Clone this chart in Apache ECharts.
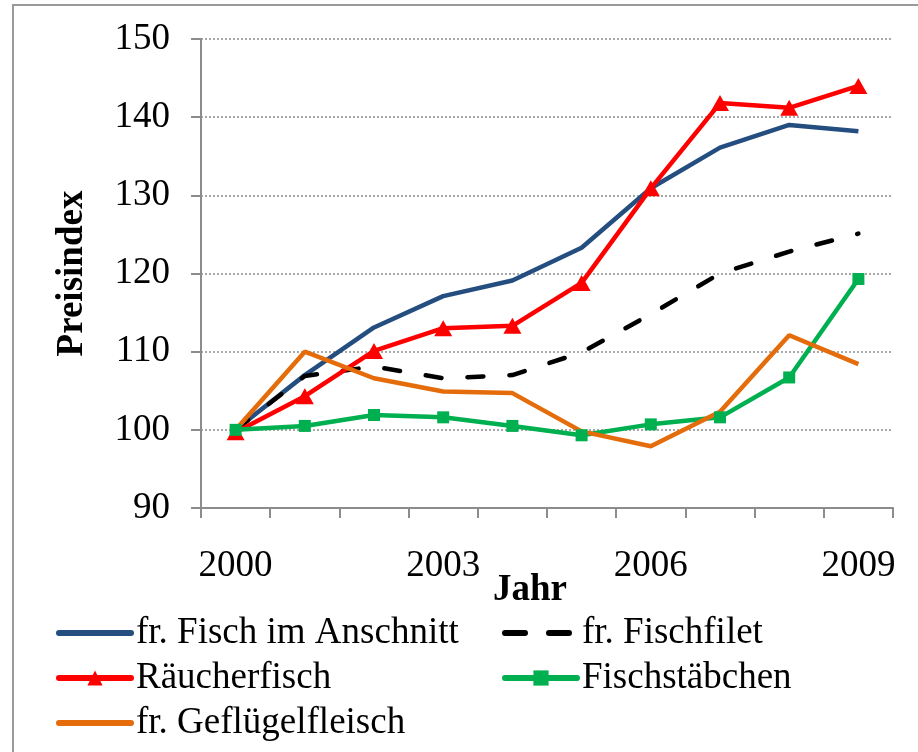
<!DOCTYPE html>
<html>
<head>
<meta charset="utf-8">
<script src="https://cdn.jsdelivr.net/npm/echarts@6/dist/echarts.min.js"></script>
<style>
  html, body { margin: 0; padding: 0; background: #fff; }
  #chart { width: 918px; height: 752px; }
</style>
</head>
<body>
<div id="chart"></div>
<script>
// Jahre und Preisindex (2000 = 100)
const years = ['2000', '2001', '2002', '2003', '2004', '2005', '2006', '2007', '2008', '2009'];
const fischAnschnitt = [100, 107.0, 113.1, 117.1, 119.1, 123.3, 130.9, 136.1, 139.0, 138.2];
const fischfilet = [100, 106.9, 108.1, 106.6, 107.0, 109.9, 114.8, 120.0, 122.8, 125.1];
const raeucherfisch = [99.7, 104.3, 110.1, 113.0, 113.3, 118.8, 130.9, 141.8, 141.2, 144.0];
const fischstaebchen = [100, 100.5, 101.9, 101.6, 100.5, 99.3, 100.7, 101.6, 106.7, 119.3];
const gefluegel = [100, 110.0, 106.6, 104.9, 104.7, 99.8, 97.9, 102.3, 112.1, 108.4];

const FONT = '"Liberation Serif", "Times New Roman", serif';

const chart = echarts.init(document.getElementById('chart'));

const legendCommon = {
  orient: 'vertical',
  top: 613,
  padding: 0,
  itemWidth: 72,
  itemHeight: 19,
  itemGap: 5,
  lineStyle: {width: 6, cap: 'round'},
  textStyle: {fontFamily: FONT, fontSize: 37, color: '#000', lineHeight: 40}
};

// Serien ohne Marker: im Legendensymbol nur die Linie zeigen
const noMarker = {opacity: 0};

const option = {
  backgroundColor: '#fff',
  animation: false,
  graphic: [{
    type: 'rect',
    shape: {x: 13, y: 5, width: 1000, height: 1000},
    style: {fill: 'none', stroke: '#9a9a9a', lineWidth: 2},
    silent: true
  }],
  // Achsentitel "Jahr" sitzt im Original dicht unter den Jahreszahlen
  title: {
    text: 'Jahr',
    left: 493,
    top: 572,
    padding: 0,
    textStyle: {fontFamily: FONT, fontSize: 37, fontWeight: 'bold', color: '#000'}
  },
  grid: {left: 201, right: 25, top: 39, bottom: 244},
  legend: [
    Object.assign({
      left: 56,
      data: [
        {name: 'fr. Fisch im Anschnitt', itemStyle: noMarker},
        {name: 'Räucherfisch'},
        {name: 'fr. Geflügelfleisch', itemStyle: noMarker}
      ]
    }, legendCommon),
    Object.assign({
      left: 502,
      data: [
        {name: 'fr. Fischfilet', itemStyle: noMarker, lineStyle: {type: [20, 24], width: 6, cap: 'round'}},
        {name: 'Fischstäbchen'}
      ]
    }, legendCommon)
  ],
  xAxis: {
    type: 'category',
    data: years,
    boundaryGap: true,
    axisLine: {lineStyle: {color: '#8c8c8c', width: 2}},
    axisTick: {show: true, interval: 0, length: 10, lineStyle: {color: '#8c8c8c', width: 2}},
    axisLabel: {interval: 2, margin: 40, fontFamily: FONT, fontSize: 37, color: '#000'},
    splitLine: {show: false}
  },
  yAxis: {
    type: 'value',
    min: 90,
    max: 150,
    interval: 10,
    name: 'Preisindex',
    nameLocation: 'middle',
    nameGap: 110,
    nameRotate: 90,
    nameTextStyle: {fontFamily: FONT, fontSize: 37, fontWeight: 'bold', color: '#000'},
    axisLine: {show: true, lineStyle: {color: '#8c8c8c', width: 2}},
    axisTick: {show: true, length: 10, lineStyle: {color: '#8c8c8c', width: 2}},
    axisLabel: {margin: 31, fontFamily: FONT, fontSize: 37, color: '#000'},
    splitLine: {show: true, lineStyle: {color: '#8c8c8c', width: 1.5, type: [2, 2]}}
  },
  series: [
    {
      name: 'fr. Fisch im Anschnitt',
      type: 'line',
      data: fischAnschnitt,
      symbol: 'none',
      lineStyle: {color: '#254e80', width: 4.5},
      itemStyle: {color: '#254e80'}
    },
    {
      name: 'fr. Fischfilet',
      type: 'line',
      data: fischfilet,
      symbol: 'none',
      lineStyle: {color: '#000', width: 4.5, type: [16, 26], cap: 'round'},
      itemStyle: {color: '#000'}
    },
    {
      name: 'Räucherfisch',
      type: 'line',
      data: raeucherfisch,
      symbol: 'triangle',
      symbolSize: [18, 16],
      lineStyle: {color: '#ff0000', width: 4.5},
      itemStyle: {color: '#ff0000'}
    },
    {
      name: 'Fischstäbchen',
      type: 'line',
      data: fischstaebchen,
      symbol: 'rect',
      symbolSize: 12,
      lineStyle: {color: '#00b050', width: 4.5},
      itemStyle: {color: '#00b050'}
    },
    {
      name: 'fr. Geflügelfleisch',
      type: 'line',
      data: gefluegel,
      symbol: 'none',
      lineStyle: {color: '#e46c0a', width: 4.5},
      itemStyle: {color: '#e46c0a'}
    }
  ]
};

chart.setOption(option);
</script>
</body>
</html>
